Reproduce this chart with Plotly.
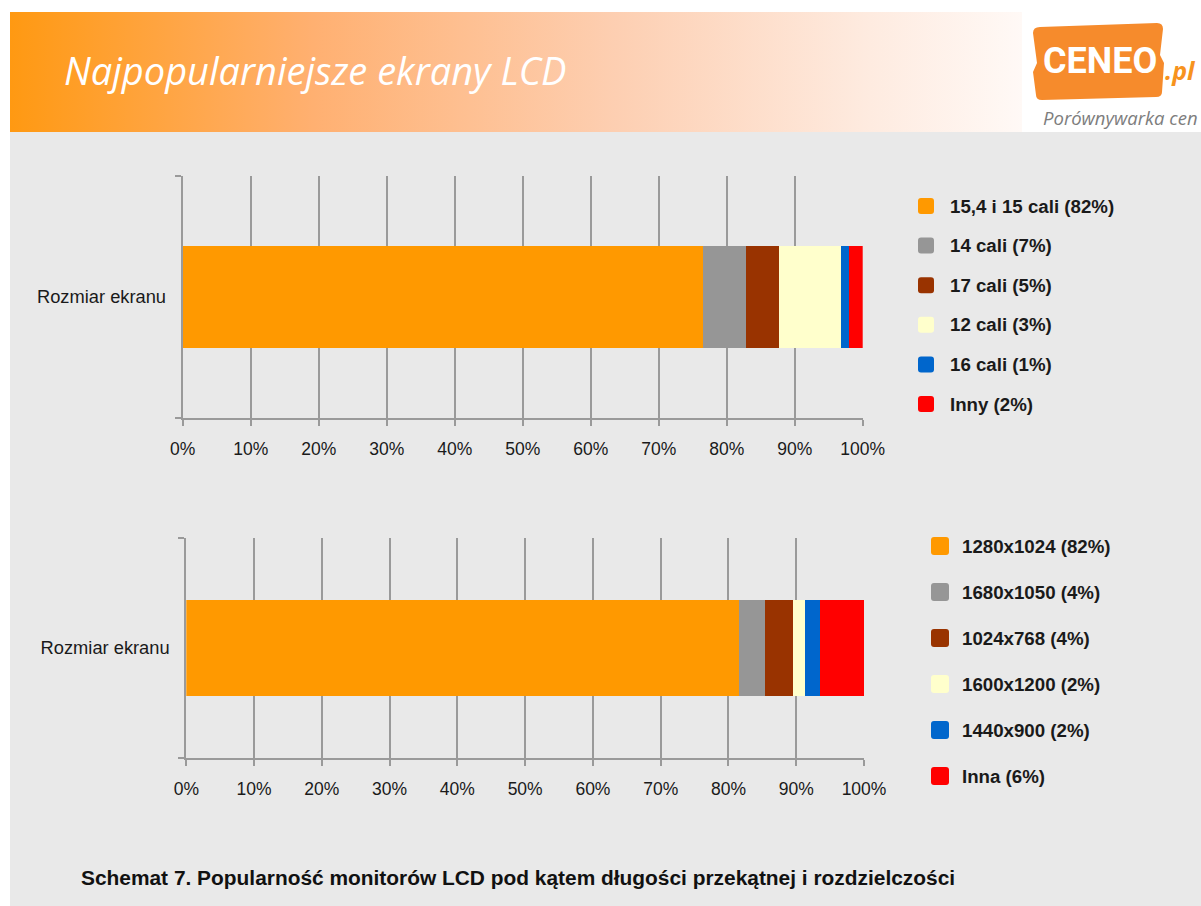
import base64
import plotly.graph_objects as go

# ---------------- data ----------------
CATEGORY = "Rozmiar ekranu"

size_labels = ["15,4 i 15 cali (82%)", "14 cali (7%)", "17 cali (5%)",
               "12 cali (3%)", "16 cali (1%)", "Inny (2%)"]
size_values = [76.4, 6.4, 4.8, 9.1, 1.2, 2.1]

res_labels = ["1280x1024 (82%)", "1680x1050 (4%)", "1024x768 (4%)",
              "1600x1200 (2%)", "1440x900 (2%)", "Inna (6%)"]
res_values = [81.6, 3.9, 4.0, 1.9, 2.1, 6.5]

colors = ["#FF9900", "#969696", "#993300", "#FFFFCC", "#0066CC", "#FF0000"]

x_tick_values = [0, 10, 20, 30, 40, 50, 60, 70, 80, 90, 100]
x_tick_labels = ["0%", "10%", "20%", "30%", "40%", "50%", "60%", "70%", "80%", "90%", "100%"]

TITLE = "Najpopularniejsze ekrany LCD"
CAPTION = "<b>Schemat 7. Popularność monitorów LCD pod kątem długości przekątnej i rozdzielczości</b>"

# ---------------- geometry helpers ----------------
W, H = 1201, 906


def X(px):
    return px / W


def Y(py):
    return 1 - py / H


def rounded_rect(x0, y0, x1, y1, r):
    """Rounded rectangle path in paper coordinates from pixel box."""
    rx, ry = r / W, r / H
    a, b, c, d = X(x0), Y(y0), X(x1), Y(y1)  # b top (larger), d bottom
    return (f"M{a+rx},{b} L{c-rx},{b} Q{c},{b} {c},{b-ry} L{c},{d+ry} Q{c},{d} {c-rx},{d} "
            f"L{a+rx},{d} Q{a},{d} {a},{d+ry} L{a},{b-ry} Q{a},{b} {a+rx},{b} Z")


def conv_path(p):
    out = []
    for tok in p.split():
        if "," in tok:
            cmd = ""
            while tok and tok[0].isalpha():
                cmd += tok[0]
                tok = tok[1:]
            a, b = tok.split(",")
            out.append(f"{cmd}{X(float(a))},{Y(float(b))}")
        else:
            out.append(tok)
    return " ".join(out)


fig = go.Figure()

# ---------------- bars ----------------
for lab, val, col in zip(size_labels, size_values, colors):
    fig.add_trace(go.Bar(x=[val], y=[CATEGORY], orientation="h", name=lab,
                         marker=dict(color=col, line=dict(width=0)),
                         width=0.42, xaxis="x", yaxis="y", showlegend=False,
                         hoverinfo="skip"))
for lab, val, col in zip(res_labels, res_values, colors):
    fig.add_trace(go.Bar(x=[val], y=[CATEGORY], orientation="h", name=lab,
                         marker=dict(color=col, line=dict(width=0)),
                         width=0.436, xaxis="x2", yaxis="y2", showlegend=False,
                         hoverinfo="skip"))

AX = "#9a9a9a"
xtickfont = dict(family="Liberation Sans, Arial, sans-serif", size=17.5, color="#1a1a1a")
ytickfont = dict(family="Liberation Sans, Arial, sans-serif", size=18.3, color="#1a1a1a")

xcommon = dict(range=[0, 100], tickmode="array", tickvals=x_tick_values, ticktext=x_tick_labels,
               showgrid=True, gridcolor=AX, gridwidth=2, showline=True, linecolor=AX, linewidth=2,
               ticks="outside", ticklen=6, tickwidth=2, tickcolor=AX, tickfont=xtickfont,
               zeroline=False, fixedrange=True, layer="below traces", ticklabelstandoff=8,
               automargin=False)
ycommon = dict(type="category", range=[-0.5, 0.5], tickson="boundaries", ticks="outside",
               ticklen=6, tickwidth=2, tickcolor=AX, showline=True, linecolor=AX, linewidth=2,
               showgrid=False, zeroline=False, tickfont=ytickfont, fixedrange=True,
               layer="below traces", ticklabelstandoff=11, automargin=False)

fig.update_layout(
    width=W, height=H, margin=dict(l=0, r=0, t=0, b=0, autoexpand=False),
    paper_bgcolor="white", plot_bgcolor="rgba(0,0,0,0)",
    barmode="stack", bargap=0,
    xaxis=dict(domain=[X(182.7), X(862.7)], anchor="y", **xcommon),
    yaxis=dict(domain=[Y(418), Y(176)], anchor="x", **ycommon),
    xaxis2=dict(domain=[X(186.3), X(864)], anchor="y2", **xcommon),
    yaxis2=dict(domain=[Y(758), Y(537.5)], anchor="x2", **ycommon),
)

shapes = []
annotations = []

# gray page background
shapes.append(dict(type="rect", xref="paper", yref="paper", x0=X(10), x1=1, y0=0, y1=Y(132),
                   fillcolor="#E9E9E9", line=dict(width=0), layer="below"))

# header gradient (as an inline SVG image)
svg = ('<svg xmlns="http://www.w3.org/2000/svg" width="1012" height="120" preserveAspectRatio="none">'
       '<defs><linearGradient id="g" x1="0" x2="1" y1="0" y2="0">'
       '<stop offset="0" stop-color="#FF9912"/>'
       '<stop offset="0.3" stop-color="#FFB071"/>'
       '<stop offset="0.6" stop-color="#FDCFB2"/>'
       '<stop offset="0.85" stop-color="#FEEBE0"/>'
       '<stop offset="1" stop-color="#FFF9F6"/>'
       '</linearGradient></defs><rect width="1012" height="120" fill="url(#g)"/></svg>')
src = "data:image/svg+xml;base64," + base64.b64encode(svg.encode()).decode()
fig.add_layout_image(dict(source=src, xref="paper", yref="paper", x=X(10), y=Y(12),
                          sizex=(1022 - 10) / W, sizey=120 / H, xanchor="left", yanchor="top",
                          sizing="stretch", layer="below"))

annotations.append(dict(text=TITLE, xref="paper", yref="paper", x=X(62), y=Y(70),
                        xanchor="left", yanchor="middle", showarrow=False,
                        font=dict(family="Open Sans, Noto Sans, sans-serif", size=38,
                                  color="white", style="italic")))

# logo
tag = ("M1040,27 L1157,23 Q1163,23 1163,29 L1160,55 L1164,63 L1162,92 Q1162,97 1156,97 "
       "L1042,100 Q1036,100 1036,95 L1033,72 L1037,63 L1033,33 Q1033,27 1040,27 Z")
shapes.append(dict(type="path", xref="paper", yref="paper", path=conv_path(tag),
                   fillcolor="#F68B2C", line=dict(width=0), layer="above"))
annotations.append(dict(text="<b>CENEO</b>", xref="paper", yref="paper", x=X(1100), y=Y(61),
                        xanchor="center", yanchor="middle", showarrow=False,
                        font=dict(family="Roboto, Liberation Sans, sans-serif", size=36, color="white")))
annotations.append(dict(text="<b><i>.pl</i></b>", xref="paper", yref="paper", x=X(1163), y=Y(70),
                        xanchor="left", yanchor="middle", showarrow=False,
                        font=dict(family="Open Sans, sans-serif", size=25, color="#F7931E")))
annotations.append(dict(text="<i>Porównywarka cen</i>", xref="paper", yref="paper", x=X(1041), y=Y(117),
                        xanchor="left", yanchor="middle", showarrow=False,
                        font=dict(family="Open Sans, sans-serif", size=18.5, color="#7d7d7d")))

# legends (drawn manually)
legfont = dict(family="Liberation Sans, Arial, sans-serif", size=18.7, color="#1a1a1a")
for i, (lab, col) in enumerate(zip(size_labels, colors)):
    cy = 206 + i * 39.6
    shapes.append(dict(type="path", xref="paper", yref="paper",
                       path=rounded_rect(918, cy - 8, 934, cy + 8, 3),
                       fillcolor=col, line=dict(width=0)))
    annotations.append(dict(text=f"<b>{lab}</b>", xref="paper", yref="paper", x=X(948), y=Y(cy),
                            xanchor="left", yanchor="middle", showarrow=False, font=legfont))
for i, (lab, col) in enumerate(zip(res_labels, colors)):
    cy = 546 + i * 46
    shapes.append(dict(type="path", xref="paper", yref="paper",
                       path=rounded_rect(931, cy - 9, 949, cy + 9, 3),
                       fillcolor=col, line=dict(width=0)))
    annotations.append(dict(text=f"<b>{lab}</b>", xref="paper", yref="paper", x=X(960), y=Y(cy),
                            xanchor="left", yanchor="middle", showarrow=False, font=legfont))

# caption
annotations.append(dict(text=CAPTION, xref="paper", yref="paper", x=X(79), y=Y(877),
                        xanchor="left", yanchor="middle", showarrow=False,
                        font=dict(family="Liberation Sans, Arial, sans-serif", size=20.9, color="#111111")))

fig.update_layout(shapes=shapes, annotations=annotations)

fig.write_html("out.html", config={"displayModeBar": False},
               post_script="document.body.style.margin='0';document.body.style.overflow='hidden';")
